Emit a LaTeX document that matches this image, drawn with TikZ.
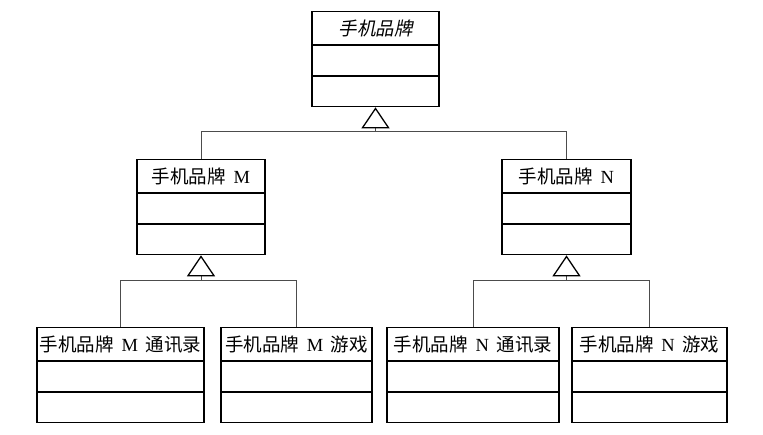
\documentclass[tikz,border=0pt]{standalone}
\usepackage{fontspec}
\usetikzlibrary{arrows.meta}
\newfontfamily\cjk{Noto Sans CJK SC}
\newfontfamily\cjkit[FakeSlant=0.2]{Noto Sans CJK SC}
\newfontfamily\latf{Liberation Serif}
\newcommand\gapsp{\hspace{0.42em}}
\newcommand\umlclass[6]{%
  \node[classbox, minimum width=#4, anchor=north] (#1) at (#2,#3) {};
  \draw[divider] ([yshift=-34pt]#1.north west) -- ([yshift=-34pt]#1.north east);
  \draw[divider] ([yshift=-65pt]#1.north west) -- ([yshift=-65pt]#1.north east);
  \node[classtitle] (#1-t) at ([yshift=-17.5pt]#1.north) {#5#6};
}
\tikzset{
  classbox/.style={draw=black, line width=1.3pt, minimum height=95pt, inner sep=0pt, fill=white},
  divider/.style={draw=black, line width=1.3pt},
  classtitle/.style={inner sep=0pt, font=\cjk\fontsize{18.5pt}{20pt}\selectfont},
  conn/.style={draw=black!70, line width=0.8pt},
  inherit/.style={draw=black!70, line width=0.8pt, -{Triangle[open, length=21pt, width=28pt, line width=1.3pt, color=black]}},
}
\begin{document}
\begin{tikzpicture}
\useasboundingbox[fill=white] (0,0) rectangle (763pt,-434pt);
\umlclass{top}{375.5pt}{-11pt}{127pt}{\cjkit}{手机品牌}
\umlclass{M}{201pt}{-159pt}{128pt}{}{手机品牌\gapsp{\latf M}}
\umlclass{N}{566.5pt}{-159pt}{129pt}{}{手机品牌\gapsp{\latf N}}
\umlclass{MC}{120.5pt}{-327pt}{167pt}{}{手机品牌\gapsp{\latf M}\gapsp 通讯录}
\umlclass{MG}{296.5pt}{-327pt}{151pt}{}{手机品牌\gapsp{\latf M}\gapsp 游戏}
\umlclass{NC}{473pt}{-327pt}{172pt}{}{手机品牌\gapsp{\latf N}\gapsp 通讯录}
\umlclass{NG}{649.5pt}{-327pt}{155pt}{}{手机品牌\gapsp{\latf N}\gapsp 游戏}
\coordinate (jT) at ([yshift=-24pt]top.south);
\coordinate (jM) at ([yshift=-25pt]M.south);
\coordinate (jN) at ([yshift=-25pt]N.south);
\draw[conn] (M.north) |- (jT);
\draw[conn] (N.north) |- (jT);
\draw[inherit] (jT) -- (top.south);
\draw[conn] (MC.north) |- (jM);
\draw[conn] (MG.north) |- (jM);
\draw[inherit] (jM) -- (M.south);
\draw[conn] (NC.north) |- (jN);
\draw[conn] (NG.north) |- (jN);
\draw[inherit] (jN) -- (N.south);
\end{tikzpicture}
\end{document}
